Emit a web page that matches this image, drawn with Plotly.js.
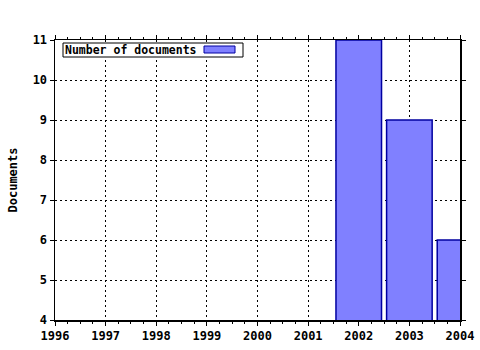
<!DOCTYPE html>
<html>
<head>
<meta charset="utf-8">
<script src="https://cdn.plot.ly/plotly-3.0.1.min.js"></script>
<style>html,body{margin:0;padding:0;background:#fff;}#chart{width:480px;height:350px;}</style>
</head>
<body>
<div id="chart"></div>
<script>
const years = [2002, 2003, 2004];
const documents = [11, 9, 6];
const seriesName = "Number of documents";
const xTickVals = [1996, 1997, 1998, 1999, 2000, 2001, 2002, 2003, 2004];
const yTickVals = [4, 5, 6, 7, 8, 9, 10, 11];

const fnt = {family: "DejaVu Sans Mono, monospace", size: 12, color: "#000", weight: "bold"};
const L = 55, R = 20, T = 40, B = 30, W = 480, H = 350;
const pw = W - L - R, ph = H - T - B;
const px = v => (v - L) / pw;
const py = v => 1 - (v - T) / ph;

const trace = {
  type: "bar", x: years, y: documents, width: 0.9, name: seriesName,
  marker: {color: "#8080ff", line: {color: "#0000a0", width: 1.5}},
  showlegend: false, hoverinfo: "none"
};

const axisCommon = {
  showline: true, linecolor: "#000", linewidth: 1.5, mirror: "ticks",
  ticks: "outside", ticklen: 4, tickcolor: "#000", tickwidth: 1,
  showgrid: true, gridcolor: "#000", griddash: "2px,3px", gridwidth: 1,
  zeroline: false, tickfont: fnt, fixedrange: true
};

const layout = {
  width: W, height: H,
  margin: {l: L, r: R, t: T, b: B, pad: 0},
  paper_bgcolor: "#fff", plot_bgcolor: "#fff",
  bargap: 0,
  xaxis: Object.assign({}, axisCommon, {
    range: [1996, 2004], tickmode: "array", tickvals: xTickVals,
    ticktext: xTickVals.map(String),
    minor: {dtick: 0.25, ticks: "outside", ticklen: 2, tickcolor: "#000", showgrid: false}
  }),
  yaxis: Object.assign({}, axisCommon, {
    range: [4, 11], tickmode: "array", tickvals: yTickVals,
    title: {text: "Documents", font: fnt, standoff: 12}
  }),
  annotations: [{
    xref: "paper", yref: "paper", x: px(64), y: py(50), xanchor: "left", yanchor: "middle",
    text: seriesName, showarrow: false,
    font: {family: "DejaVu Sans Mono, monospace", size: 11.5, color: "#000", weight: "bold"},
    borderpad: 0, align: "left"
  }],
  shapes: [{
    type: "rect", xref: "paper", yref: "paper",
    x0: px(63), x1: px(243), y0: py(43), y1: py(57),
    fillcolor: "#fff", line: {color: "#000", width: 1}
  }, {
    type: "rect", xref: "paper", yref: "paper",
    x0: px(204), x1: px(235), y0: py(46), y1: py(53),
    fillcolor: "#8080ff", line: {color: "#0000a0", width: 1}
  }]
};

Plotly.newPlot("chart", [trace], layout, {displayModeBar: false, staticPlot: true});
</script>
</body>
</html>
